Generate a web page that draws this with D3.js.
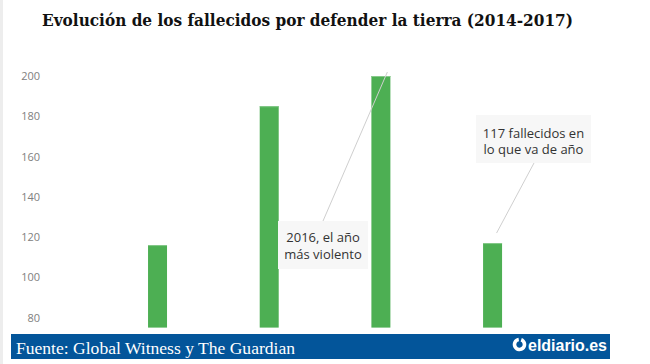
<!DOCTYPE html>
<html>
<head>
<meta charset="utf-8">
<script src="https://cdn.jsdelivr.net/npm/d3@7"></script>
<style>
  html, body { margin: 0; padding: 0; background: #fff; }
  svg { display: block; }
</style>
</head>
<body>
<svg id="chart" width="650" height="364"></svg>
<script>
// ---- data ----
const years = ["2014", "2015", "2016", "2017"];
const deaths = [116, 185, 200, 117];
const yTicks = [80, 100, 120, 140, 160, 180, 200];
const titleText = "Evolución de los fallecidos por defender la tierra (2014-2017)";
const sourceText = "Fuente: Global Witness y The Guardian";
const note2016 = ["2016, el año", "más violento"];
const note2017 = ["117 fallecidos en", "lo que va de año"];

const svg = d3.select("#chart");

// background & left strip
svg.append("rect").attr("x", 0).attr("y", 0).attr("width", 650).attr("height", 364).attr("fill", "#fff");
svg.append("rect").attr("x", 0).attr("y", 0).attr("width", 3).attr("height", 364).attr("fill", "#ededed");

// title
svg.append("text")
  .attr("x", 42).attr("y", 26)
  .attr("font-family", "'DejaVu Serif', 'Liberation Serif', serif")
  .attr("font-weight", "bold")
  .attr("font-size", 17)
  .attr("fill", "#111")
  .attr("textLength", 531)
  .attr("lengthAdjust", "spacingAndGlyphs")
  .text(titleText);

// scales
const x = d3.scaleBand().domain(years).range([92.2, 557.9]).paddingInner(0.83).paddingOuter(0.5);
const y = d3.scaleLinear().domain([75, 200]).range([327.6, 76]);

// y axis (labels only)
const yAxis = d3.axisLeft(y).tickValues(yTicks).tickSize(0).tickPadding(0);
const gy = svg.append("g").attr("transform", "translate(40,0)").attr("color", "#808080").call(yAxis);
gy.select(".domain").remove();
gy.selectAll("text")
  .attr("font-family", "'Open Sans', sans-serif")
  .attr("font-size", 11)
  .attr("fill", "#808080");

// bars
svg.append("g").selectAll("rect")
  .data(years)
  .join("rect")
  .attr("x", d => x(d))
  .attr("width", x.bandwidth())
  .attr("y", (d, i) => y(deaths[i]))
  .attr("height", (d, i) => y(75) - y(deaths[i]))
  .attr("fill", "#4daf53");
svg.append("g").selectAll("line")
  .data(years)
  .join("line")
  .attr("x1", d => x(d)).attr("x2", d => x(d) + x.bandwidth())
  .attr("y1", (d, i) => y(deaths[i]) + 0.5).attr("y2", (d, i) => y(deaths[i]) + 0.5)
  .attr("stroke", "#86c98a").attr("stroke-width", 1);

// annotations
function annotate(box, lines, target) {
  const g = svg.append("g");
  g.append("line")
    .attr("x1", target[0]).attr("y1", target[1])
    .attr("x2", box.lx).attr("y2", box.ly)
    .attr("stroke", "#cfcfcf").attr("stroke-width", 1);
  g.append("rect")
    .attr("x", box.x).attr("y", box.y).attr("width", box.w).attr("height", box.h)
    .attr("fill", "#f7f7f7");
  lines.forEach((t, i) => {
    g.append("text")
      .attr("x", box.x + box.w / 2).attr("y", box.ty + i * 16.5)
      .attr("text-anchor", "middle")
      .attr("font-family", "'Open Sans', sans-serif")
      .attr("font-size", 13)
      .attr("fill", "#333")
      .text(t);
  });
}
annotate({x: 278, y: 221, w: 90, h: 48, lx: 323, ly: 221, ty: 242}, note2016,
  [x("2016") + x.bandwidth() - 3, y(200) - 4]);
annotate({x: 476, y: 115, w: 115, h: 48, lx: 534, ly: 163, ty: 137.5}, note2017,
  [x("2017") + x.bandwidth() / 2 + 4, y(117) - 10]);

// footer band
svg.append("rect").attr("x", 11).attr("y", 334).attr("width", 599).attr("height", 25).attr("fill", "#03559a");
svg.append("text")
  .attr("x", 16).attr("y", 353.5)
  .attr("font-family", "'Liberation Serif', 'DejaVu Serif', serif")
  .attr("font-size", 16)
  .attr("fill", "#fff")
  .attr("textLength", 279)
  .attr("lengthAdjust", "spacingAndGlyphs")
  .text(sourceText);

// logo
const logo = svg.append("g");
logo.append("path")
  .attr("d", d3.arc()({innerRadius: 3.2, outerRadius: 6.8, startAngle: 0.35, endAngle: 2 * Math.PI - 0.15}))
  .attr("transform", "translate(519.5,344.5)")
  .attr("fill", "#fff");
logo.append("text")
  .attr("x", 528).attr("y", 351)
  .attr("font-family", "'Liberation Sans', Arial, sans-serif")
  .attr("font-weight", "bold")
  .attr("font-size", 17)
  .attr("fill", "#fff")
  .attr("textLength", 79)
  .attr("lengthAdjust", "spacingAndGlyphs")
  .text("eldiario.es");
</script>
</body>
</html>
